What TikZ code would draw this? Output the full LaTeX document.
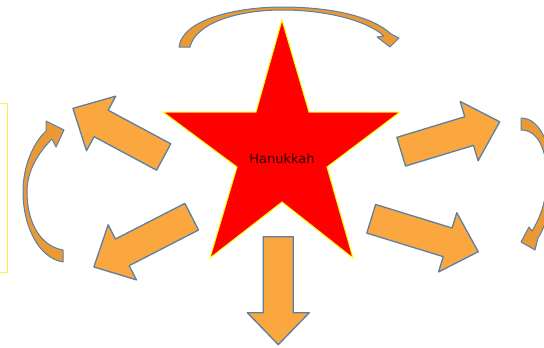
\documentclass[tikz,border=0pt]{standalone}
\usepackage{fontspec}
\setsansfont{DejaVu Sans}
\usetikzlibrary{arrows.meta,positioning}
\definecolor{HanRed}{HTML}{FF0000}
\definecolor{HanYellow}{HTML}{FFFF00}
\definecolor{HanFrame}{HTML}{F5F540}
\definecolor{HanOrange}{HTML}{F9A73E}
\definecolor{HanDeepOrange}{HTML}{E99A35}
\definecolor{HanSteel}{HTML}{5B7FA6}
\definecolor{HanText}{HTML}{2A0000}

\tikzset{
  arrowbody/.style={fill=HanOrange, draw=HanSteel, line width=1.3pt, line join=round},
  curvebody/.style={fill=HanDeepOrange, draw=HanSteel, line width=1pt, line join=round},
  pics/blockarrow/.style={code={
    \draw[arrowbody] (0,-15) -- ({#1-32},-15) -- ({#1-32},-31) -- (#1,0)
      -- ({#1-32},31) -- ({#1-32},15) -- (0,15) -- cycle;
  }}
}

\begin{document}
\begin{tikzpicture}[x=1pt,y=-1pt]
    \useasboundingbox (0,0) rectangle (544,348);
    % frame on the left edge
    \draw[HanFrame, line width=0.9pt] (-5,103) rectangle (7,272);
    % star
    \draw[fill=HanRed, draw=HanYellow, line width=1pt, line join=miter]
      (282,20) -- (309,112) -- (400,112) -- (327,167) -- (353,258)
      -- (282,202) -- (210,258) -- (237,167) -- (163,112) -- (256,112) -- cycle;
    \node[text=HanText, font=\sffamily\fontsize{13}{15}\selectfont] (hanukkah) at (282,159) {Hanukkah};
    % block arrows round the star
    \pic[rotate=151.8] at (163.7,157) {blockarrow=103};
    \pic[rotate=207.2] at (191.7,216.7) {blockarrow=110};
    \pic[rotate=16.9] at (401.2,151.7) {blockarrow=103};
    \pic[rotate=-17.1] at (371.2,218.8) {blockarrow=112};
    \pic[rotate=-90] at (278.3,236.7) {blockarrow=108};
    % curved arrows
    \draw[curvebody]
      (179,47) .. controls (182,20) and (235,7) .. (282,7)
      .. controls (330,7) and (372,16) .. (391,34) -- (399,38) -- (390,47)
      -- (377,37) -- (384,36) .. controls (366,20) and (325,10) .. (282,10)
      .. controls (240,10) and (196,22) .. (190,47) -- cycle;
    \draw[curvebody]
      (63,262) .. controls (38,258) and (23,225) .. (23,192)
      .. controls (23,165) and (34,142) .. (46,131) -- (46,121) -- (64,130)
      -- (56,147) -- (52,139) .. controls (39,152) and (27,170) .. (27,192)
      .. controls (27,222) and (40,246) .. (63,250) -- cycle;
    \draw[curvebody]
      (521,118) .. controls (542,118) and (552,150) .. (552,178)
      .. controls (552,205) and (545,228) .. (538,238) -- (535,250) -- (521,242)
      -- (529,227) -- (532,231) .. controls (540,218) and (547,200) .. (547,178)
      .. controls (547,150) and (538,130) .. (521,130) -- cycle;
  \end{tikzpicture}
\end{document}
